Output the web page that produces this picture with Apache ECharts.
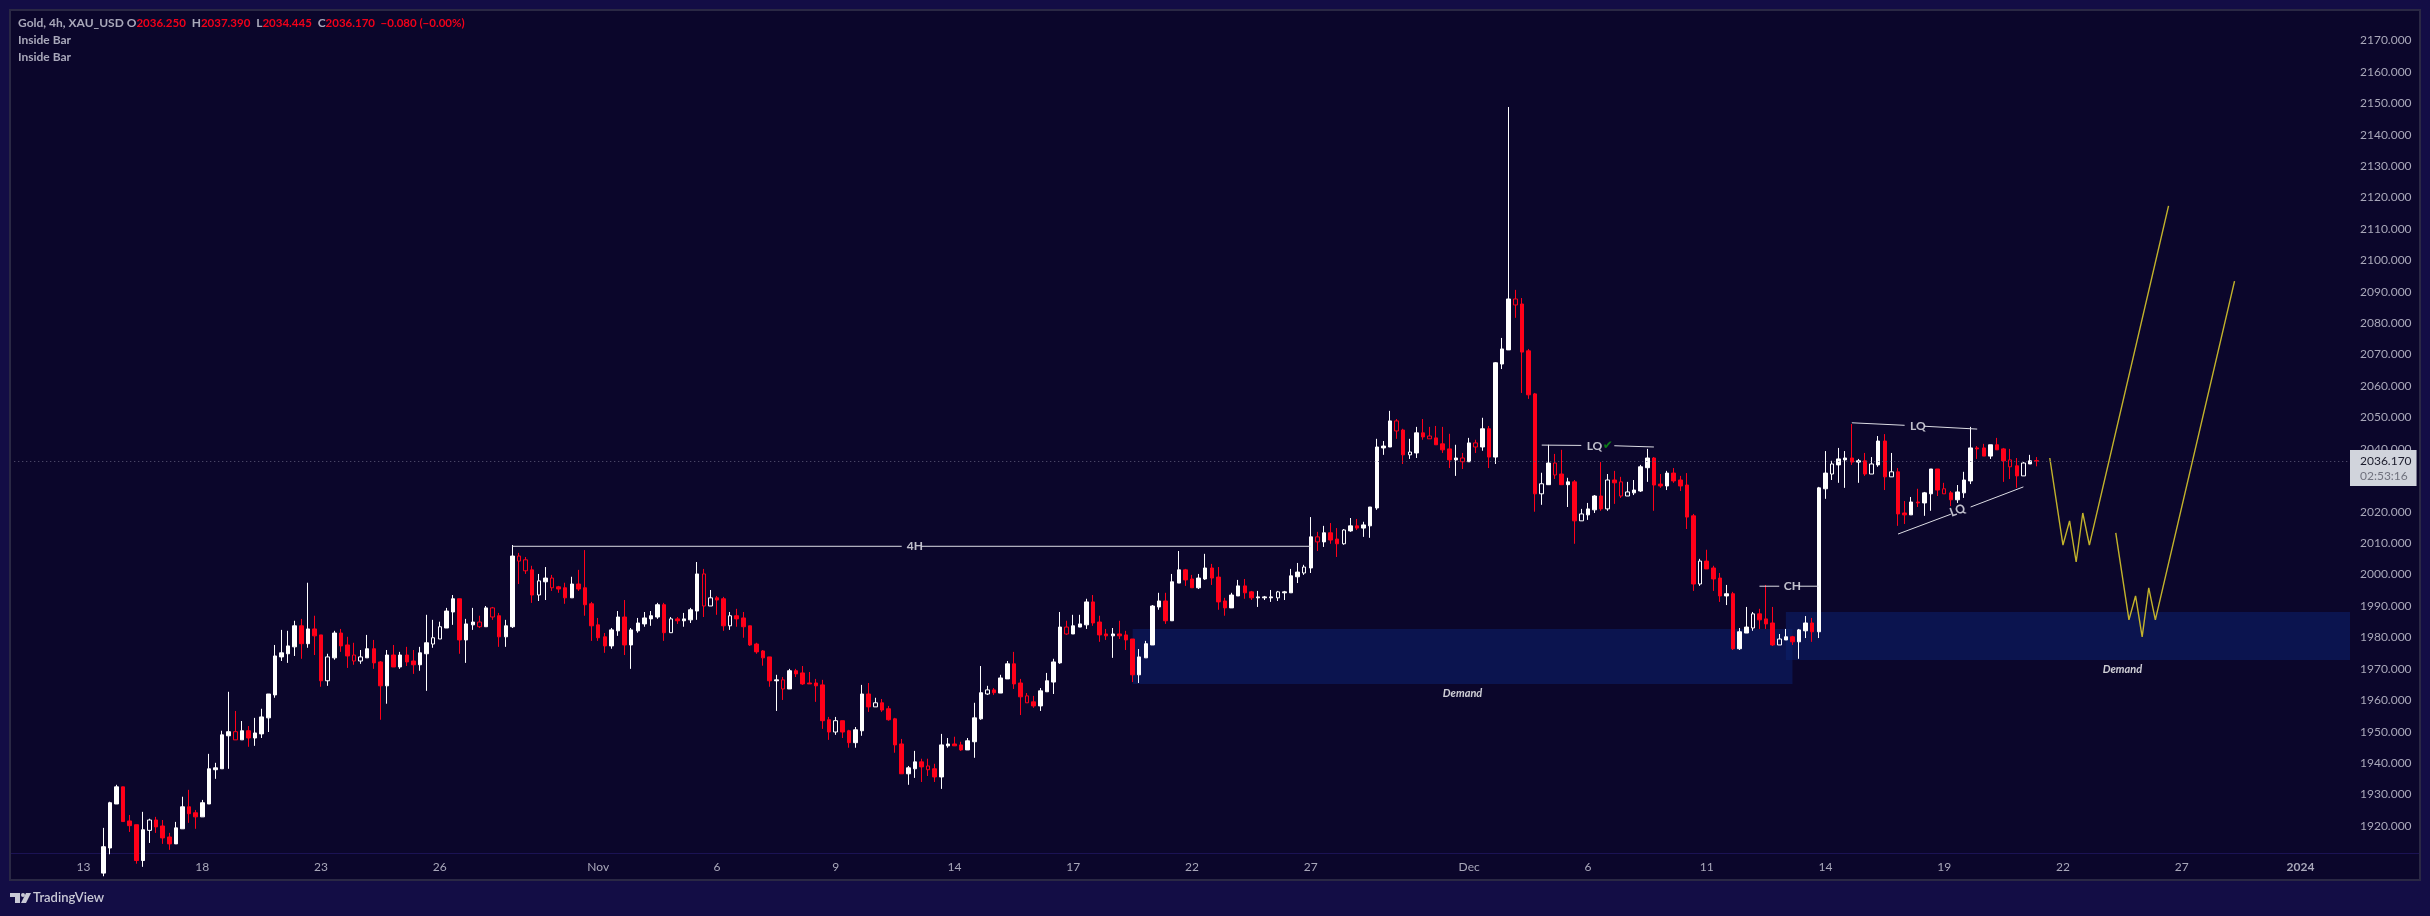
<!DOCTYPE html>
<html style="height: 100%">
<head>
<meta charset="utf-8">
<script src="https://cdn.jsdelivr.net/npm/echarts@6/dist/echarts.min.js"></script>
<style type="text/css">
  *{ margin: 0; padding: 0; }
</style>
</head>
<body style="height: 100%; margin: 0; background: #130d45">
<div id="container" style="width: 2430px; height: 916px"></div>
<script type="text/javascript">
// 4h gold bars: [open, close, high, low]
var bars = [
[1905,1913.4,1919.4,1904],[1913,1927.4,1927.7,1911],[1927,1932.45,1933.1,1927],[1932.45,1921.4,1932.5,1921.4],[1921.6,1920.1,1923.5,1918.1],
[1920.4,1909,1920.4,1908],[1909,1918.8,1924.5,1907],[1918.6,1921.9,1922.3,1914.6],[1921.9,1919.7,1922.9,1917.8],[1920,1916.2,1921.9,1914.3],
[1916.5,1914.3,1917.8,1912.4],[1914.3,1919.4,1921.3,1914.3],[1919.1,1926.1,1929.3,1919.1],[1926.1,1923.9,1931.5,1921],[1924.2,1922.9,1925.1,1919.1],
[1922.9,1927.4,1928.3,1922.9],[1927,1938.2,1942.95,1927],[1937.9,1938.5,1940.1,1935],[1938.2,1949,1950.3,1938.2],[1948.7,1950,1962.7,1938.2],
[1950,1947.4,1956.6,1947.4],[1947.4,1950.3,1953.4,1947.4],[1950.3,1948,1951.8,1945.2],[1948,1949.6,1954.4,1945.5],[1949.3,1954.7,1957.3,1948],
[1954.4,1962,1962,1949.9],[1961.7,1974.1,1977.6,1960.8],[1973.8,1975.1,1982.4,1972.5],[1974.8,1977.3,1982.1,1971.9],[1977,1983.7,1985.3,1974.1],
[1983.7,1978,1985.9,1973.2],[1978,1982.7,1997.4,1976.7],[1982.7,1980.5,1986.9,1974.4],[1980.8,1966.2,1980.8,1964.3],[1966.2,1973.8,1974.8,1964.6],
[1973.5,1981.4,1982.1,1972.9],[1981.4,1977.3,1982.7,1975.4],[1977.6,1974.1,1980.2,1970.3],[1974.4,1972.5,1978.3,1971.3],[1972.5,1973.8,1976,1971.6],
[1973.5,1976.4,1980.8,1973.5],[1976.4,1971.9,1979.2,1970],[1972.2,1964.6,1972.5,1953.8],[1964.6,1974.4,1976,1958.9],[1974.4,1970.6,1977.6,1970.6],
[1970.6,1974.4,1975.4,1970],[1974.4,1972.2,1977,1970.9],[1972.5,1971.3,1976,1968.4],[1971.3,1975.1,1977,1969.4],[1974.8,1978.3,1987.2,1963],
[1977.9,1979.9,1985.6,1976.7],[1979.5,1983.4,1985,1979.5],[1983,1988.4,1989.4,1983],[1988.1,1992.3,1993.5,1984],[1992.3,1979.2,1992.3,1974.8],
[1979.2,1984.3,1985.9,1971.9],[1984,1984.9,1989.4,1982.4],[1984.9,1983.4,1986.9,1983],[1983.4,1989.4,1990,1983.4],[1989.4,1986.5,1989.7,1985.6],
[1986.9,1980.2,1987.8,1977],[1980.2,1983.7,1985.6,1977],[1983.4,2005.9,2009.4,1983],[2005.9,2004.3,2006.9,1997],[2004.7,2001.2,2005.6,2000.2],
[2001.5,1993.5,2002.8,1991],[1993.5,1998,2000.2,1991.6],[1997.7,1998.9,2002.4,1991.9],[1998.9,1995.8,1999.9,1994.8],[1996.1,1995.4,1996.4,1994.2],
[1995.8,1992.6,1997.4,1990.7],[1992.6,1997,1999.3,1992.6],[1997,1995.4,2001.5,1994.8],[1995.8,1990.4,2007.8,1986.9],[1990.7,1983.7,1991.3,1978.9],
[1984,1979.9,1986.2,1978.9],[1980.2,1977.3,1981.4,1975.1],[1977.3,1982.4,1983,1976.4],[1982.1,1986.5,1988.4,1980.5],[1986.5,1977.6,1991.9,1974.4],
[1977.6,1982.4,1983,1970],[1982.1,1984.6,1986.2,1981.5],[1984.3,1986.2,1988.1,1983.4],[1985.9,1986.9,1988.4,1983.7],[1986.5,1990.4,1991,1985.9],
[1990.4,1981.5,1991,1978.9],[1981.5,1985.9,1986.5,1981.5],[1985.9,1985.3,1986.5,1984.3],[1985.3,1985.9,1987.8,1983.4],[1985.6,1988.8,1989.4,1984.6],
[1988.4,2000.2,2004,1985.6],[2000.2,1990,2001.8,1986.5],[1990,1992.6,1995.1,1990],[1992.6,1991.9,1993.2,1987.2],[1992.3,1983.7,1992.9,1982.1],
[1983.7,1986.9,1988.1,1982.4],[1986.9,1985.9,1989.1,1983.4],[1986.2,1983.4,1988.1,1979.9],[1983.7,1977.6,1983.7,1977.3],[1977.9,1975.4,1978.3,1974.8],
[1975.7,1973.5,1976,1971],[1973.8,1966.2,1973.8,1964.3],[1966.2,1966.5,1968.1,1956.6],[1966.5,1963.6,1967.4,1960.1],[1963.6,1969.4,1970,1963.6],
[1969.4,1968.4,1970,1967.4],[1968.7,1965.2,1970.9,1964.9],[1965.5,1965.2,1969,1965.2],[1965.5,1964.6,1966.8,1959.5],[1964.9,1953.5,1966.5,1950.9],
[1953.8,1949.9,1954.7,1947.4],[1949.9,1953.5,1954.7,1949],[1953.5,1949.9,1953.5,1948],[1950.3,1946.5,1950.6,1944.9],[1946.5,1950.6,1951.5,1944.9],
[1950.3,1962,1964.9,1948.7],[1962,1957.9,1965.5,1956.3],[1957.9,1959.2,1960.8,1957.9],[1959.2,1956.9,1960.4,1956.3],[1957.3,1953.8,1958.2,1953.5],
[1954.1,1945.8,1954.4,1943.3],[1946.1,1936.6,1947.7,1936.6],[1936.6,1938.5,1939.1,1933.1],[1938.2,1940.4,1943.9,1935.3],[1940.4,1938.8,1941.4,1934],
[1939.1,1937.9,1941.4,1935.9],[1938.2,1935.6,1939.8,1934],[1935.6,1945.8,1949.3,1931.8],[1945.5,1946.1,1948,1944.9],[1946.1,1945.5,1948.4,1945.5],
[1945.8,1944.2,1946.8,1943.9],[1944.2,1947.1,1948,1944.2],[1946.8,1954.4,1959.2,1941.7],[1954.1,1962.4,1970.9,1953.8],[1962,1963.3,1964.6,1961.7],
[1963.3,1962.4,1963.9,1961.7],[1962.3,1967.1,1968.1,1962.3],[1966.8,1971.6,1972.5,1966.8],[1971.6,1965.2,1975.4,1963.6],[1965.5,1961.1,1966.8,1955.3],
[1961.4,1959.2,1962.3,1959.2],[1959.5,1958.2,1961.4,1957.6],[1958.2,1963,1963.9,1956.6],[1962.7,1966.2,1968.7,1962.7],[1965.8,1972.2,1973.2,1962],
[1971.9,1983.3,1988.1,1971.6],[1983.3,1981.1,1985.3,1980.8],[1981.1,1983.7,1987.2,1981.1],[1983.3,1984.3,1987.2,1983.3],[1984,1991.3,1992.3,1982.7],
[1991.3,1984.6,1993.5,1983.7],[1984.9,1980.8,1986.9,1978.6],[1981.1,1980.5,1982.7,1979.2],[1980.5,1981.1,1983,1973.5],[1981.1,1980.5,1985.3,1979.5],
[1980.8,1979.2,1982.1,1976],[1979.5,1968.1,1979.5,1965.8],[1968.1,1973.8,1976.3,1965.5],[1973.5,1978,1978.9,1973.5],[1977.6,1990,1990.3,1977.6],
[1989.7,1991.6,1994.2,1988.8],[1991.6,1985.3,1994.2,1984.3],[1985.3,1997.7,2000.2,1985.3],[1997.3,2001.5,2007.5,1997.3],[2001.5,1998.3,2001.8,1996.4],
[1998.6,1995.8,1999.9,1995.8],[1995.8,1998.9,2000.2,1995.4],[1998.6,2002.1,2006.6,1998.3],[2002.1,1998.9,2003.4,1996.7],[1999.2,1991.3,2002.4,1988.8],
[1991.6,1989.4,1992.6,1986.9],[1989.4,1993.5,1994.2,1989.4],[1993.2,1996.4,1998.3,1993.2],[1996.4,1994.2,1998.6,1992.3],[1994.5,1992.6,1994.8,1991.9],
[1992.6,1992.9,1994.8,1989.7],[1992.6,1992.9,1993.2,1991.9],[1992.6,1992.9,1995.1,1991.3],[1992.6,1994.5,1994.8,1991.6],[1994.2,1994.5,1994.8,1991.9],
[1994.2,1999.6,2001.8,1994.2],[1999.3,2000.8,2003.7,1997.3],[2000.5,2002.4,2003.1,1999.9],[2002.1,2012,2018.3,2000.5],[2012,2010.4,2013.6,2007.5],
[2010.4,2013.3,2015.5,2008.8],[2013.3,2011,2016.4,2009.8],[2011.3,2009.8,2014.8,2005.6],[2009.8,2014.2,2014.5,2009.5],[2013.9,2015.5,2018,2013.6],
[2015.5,2014.8,2017.7,2014.2],[2014.8,2015.8,2016.8,2012],[2015.5,2021.5,2021.5,2011.7],[2021.2,2040.6,2043.2,2020.6],[2040.3,2040.9,2042.5,2038.1],
[2040.6,2048.9,2052.1,2040.6],[2048.9,2045.7,2049.5,2043.2],[2046,2038.1,2046.4,2035.2],[2038.1,2039,2043.2,2036.8],[2038.7,2045.1,2047,2037.1],
[2045.1,2043.8,2049.5,2042.9],[2044.1,2043.2,2047,2043.2],[2043.5,2041.3,2047.3,2041.3],[2041.6,2039.7,2047,2038.7],[2040,2036.5,2044.8,2033.9],
[2036.5,2037.1,2041.3,2031.4],[2037.1,2035.9,2038.7,2033.6],[2035.9,2041.9,2043.5,2035.9],[2041.9,2040.6,2042.9,2038.7],[2040.6,2046.4,2049.9,2039.4],
[2046.4,2037.4,2047.3,2033.9],[2037.4,2067.4,2067.6,2035.2],[2067,2071.8,2075.3,2065.4],[2071.5,2087.7,2148.8,2071.5],[2087.7,2085.8,2090.6,2081.7],
[2086.1,2070.8,2088,2057.8],[2071.2,2057.2,2071.8,2055.9],[2057.5,2025.7,2057.8,2020],[2025.7,2028.9,2032.4,2022.2],[2028.6,2035.5,2041.3,2028.6],
[2035.5,2031.7,2038.4,2030.4],[2032,2028.6,2039.7,2028.6],[2028.6,2029.5,2030.8,2021.5],[2029.5,2017.1,2030.1,2009.8],[2017.1,2019.3,2020.9,2017.1],
[2019,2020.9,2022.8,2017.4],[2020.6,2025,2025.3,2019.6],[2025,2020.9,2035.8,2020.3],[2020.9,2030.1,2032,2020.3],[2030.1,2029.2,2033,2022.5],
[2029.5,2025,2031.1,2024.4],[2025,2026.3,2029.5,2025],[2026,2026.9,2030.1,2025.3],[2026.6,2034.3,2034.9,2026.3],[2034,2037.1,2040,2029.5],
[2037.1,2028.5,2037.4,2020.3],[2028.8,2028.2,2032,2027.6],[2028.2,2032.3,2033,2026.9],[2032.3,2029.8,2033.9,2029.2],[2030.1,2028.2,2031.4,2026.6],
[2028.5,2018.3,2032.3,2014.5],[2018.7,1997,2019.3,1994.8],[1997,2004.3,2005,1996.4],[2004.3,2001.8,2007.9,2001.8],[2002.1,1998.6,2002.8,1994.8],
[1998.9,1993.2,2000.5,1991.3],[1993.2,1993.9,1996.7,1990.3],[1993.9,1976.4,1994.5,1976],[1976.4,1981.8,1983,1976],[1981.4,1983.3,1989.7,1981.4],
[1983,1987.5,1988.1,1982.1],[1987.5,1985.6,1989.1,1982.7],[1985.9,1984.3,1996.7,1982.7],[1984.6,1977.6,1989.7,1977.3],[1977.6,1979.5,1981.1,1977.6],
[1979.2,1980.2,1982.7,1979.2],[1980.2,1978.6,1980.5,1977.6],[1978.6,1982.4,1982.7,1973.2],[1982.1,1984.6,1986.8,1979.8],[1984.6,1981.8,1986.2,1978.6],
[1981.8,2027.6,2027.9,1979.8],[2027.3,2032.3,2039.3,2024.1],[2032,2035.2,2036.2,2030.1],[2034.9,2036.8,2040.3,2029.2],[2036.5,2037.1,2039.3,2027.6],
[2037.1,2035.8,2047.9,2034.9],[2035.8,2036.2,2036.8,2029.2],[2036.2,2032,2038.7,2031.4],[2032,2035.2,2037.4,2032],[2034.9,2042.5,2044.1,2034.3],
[2042.5,2031.1,2044.7,2026.9],[2031.1,2032.7,2038.7,2031.1],[2032.7,2019.3,2033.9,2015.5],[2019.6,2019,2023.4,2016.1],[2019,2023.1,2024.7,2019],
[2023.1,2022.8,2027.3,2021.5],[2022.8,2026,2026.3,2018.7],[2025.7,2033.6,2033.6,2020.3],[2033.6,2026.9,2033.6,2025],[2027.3,2025.7,2029.2,2025.7],
[2026,2023.8,2026.6,2021.8],[2023.8,2026.3,2028.5,2022.8],[2026,2030.1,2032.7,2024.4],[2029.8,2040.3,2047,2028.8],[2040.3,2040,2040.9,2036.8],
[2040.3,2037.7,2041.6,2037.7],[2037.7,2041.3,2041.3,2036.8],[2041.3,2039.7,2043.5,2039.7],[2040,2036.2,2040.3,2029.5],[2036.5,2034.3,2040,2030.4],
[2034.6,2031.4,2037.1,2027.6],[2031.4,2035.5,2035.8,2031.4],[2035.2,2036.2,2038.1,2035.2],[2036.25,2036.17,2037.39,2034.445]
];
// inside bars, drawn hollow
var hollowBars = [7,20,34,38,39,50,51,57,59,63,64,66,68,86,91,92,95,103,111,117,125,134,140,146,178,182,184,188,196,198,201,206,208,214,218,220,224,228,230,231,242,250,254,262,268,271,279,289,291];

var priceTicks = [1920,1930,1940,1950,1960,1970,1980,1990,2000,2010,2020,2030,2040,2050,2060,2070,2080,2090,2100,2110,2120,2130,2140,2150,2160,2170];
var lastPrice = 2036.17;

// bar number -> date label
var timeTicks = {'-3':'13',15:'18',33:'23',51:'26',75:'Nov',93:'6',111:'9',129:'14',147:'17',165:'22',183:'27',207:'Dec',225:'6',243:'11',261:'14',279:'19',297:'22',315:'27',333:'2024'};

// blank slots before the first bar and after the last one
var leadSlots = 13;
var totalSlots = 354;

// demand zones: [first bar, last bar, top, bottom], the second runs to the pane edge
var zones = [[156,256,1982.7,1965.2],[255,Infinity,1988.1,1972.8]];

// hand drawn lines, as [bar, price] pairs
var whiteLines = [
  [[62,2009],[121,2009]],
  [[124,2009],[183,2009]],
  [[218,2041.2],[224,2041.1]],
  [[229,2041],[235,2040.6]],
  [[251,1996.3],[254,1996.3]],
  [[257,1996.3],[260,1996.3]],
  [[265,2048.3],[273,2047.5]],
  [[276,2047.2],[284,2046.3]],
  [[272,2012.9],[280,2019.2]],
  [[283,2021.5],[291,2027.9]]
];
var projections = [
  [[295,2037.1],[297,2009.4],[298,2017.1],[299,2004],[300,2019.6],[301,2009.4],[313,2117.3]],
  [[305,2013.3],[307,1985.6],[308,1993.2],[309,1980.2],[310,1995.8],[311,1985.6],[323,2093.4]]
];

// drawing labels: [bar, price, text]
var notes = [[123,2009,'4H'],[226,2041,'LQ'],[256,1996.3,'CH'],[275,2047.3,'LQ']];
var sloped = [[281,2020.4,'LQ']];
var demandNotes = [[206,1962.3,'Demand'],[306,1969.8,'Demand']];
var checks = [[228,2041,'✔']];

var headerName = 'Gold, 4h, XAU_USD';
var headerValues = ['2036.250','2037.390','2034.445','2036.170'];
var headerChange = '−0.080 (−0.00%)';

var fontName = 'Lato';
var mutedText = '#a9a8ba';

var dom = document.getElementById("container");
var myChart = echarts.init(dom);

var categories = [];
for (var i = 0; i < totalSlots; i++) {
  categories.push(String(i));
}

function slot(bar) {
  return bar + leadSlots;
}

var candleData = bars.map(function (b, idx) {
  var item = {value: [b[0], b[1], b[3], b[2]]};
  if (hollowBars.indexOf(idx) >= 0) {
    item.itemStyle = {color: 'rgba(0,0,0,0)', color0: 'rgba(0,0,0,0)'};
  }
  return item;
});

function slotted(points) {
  return points.map(function (p) {
    return [slot(p[0]), p[1]];
  });
}

function lineSeries(points, color, width) {
  return {
    type: 'line',
    data: slotted(points),
    showSymbol: false,
    symbol: 'none',
    silent: true,
    clip: false,
    z: 4,
    lineStyle: {color: color, width: width}
  };
}

function noteSeries(rows, label) {
  return {
    type: 'scatter',
    symbolSize: 0,
    silent: true,
    z: 5,
    data: rows.map(function (r) {
      return {value: [slot(r[0]), r[1]], name: r[2]};
    }),
    label: Object.assign({show: true, position: 'inside', formatter: '{b}'}, label)
  };
}

var series = [
  {
    type: 'line',
    data: [],
    z: 1,
    silent: true,
    markArea: {
      silent: true,
      itemStyle: {color: 'rgba(13,32,110,0.55)'},
      data: zones.map(function (z) {
        return [{xAxis: slot(z[0]), yAxis: z[2]}, {xAxis: slot(z[1]), yAxis: z[3]}];
      })
    }
  },
  {
    type: 'candlestick',
    data: new Array(leadSlots).fill('-').concat(candleData),
    barWidth: 4,
    z: 3,
    silent: true,
    large: false,
    itemStyle: {
      color: '#ffffff', borderColor: '#ffffff',
      color0: '#ff0019', borderColor0: '#ff0019',
      borderWidth: 1
    },
    markLine: {
      silent: true,
      animation: false,
      symbol: ['none', 'none'],
      lineStyle: {color: '#5e5a78', width: 1, type: [1, 3]},
      label: {
        show: true,
        position: 'end',
        distance: 0,
        offset: [0, 7],
        backgroundColor: '#d1d4dc',
        padding: [4, 5, 2, 10],
        formatter: '{a|2036.170}\n{b|02:53:16}',
        rich: {
          a: {color: '#1b1b2b', fontFamily: fontName, fontSize: 12, lineHeight: 15},
          b: {color: '#70727e', fontFamily: fontName, fontSize: 12, lineHeight: 15}
        }
      },
      data: [{yAxis: lastPrice}]
    }
  }
];

whiteLines.forEach(function (l) {
  series.push(lineSeries(l, '#dcdce4', 1));
});
projections.forEach(function (l) {
  series.push(lineSeries(l, '#c3b32b', 1.4));
});
series.push(noteSeries(notes, {color: '#eeeef4', fontFamily: fontName, fontWeight: 'bold', fontSize: 12}));
series.push(noteSeries(sloped, {color: '#eeeef4', fontFamily: fontName, fontWeight: 'bold', fontSize: 12, rotate: 20}));
series.push(noteSeries(demandNotes, {color: '#ffffff', fontFamily: fontName, fontWeight: 'bold', fontStyle: 'italic', fontSize: 11}));
series.push(noteSeries(checks, {color: '#0f9a14', fontFamily: '"DejaVu Sans"', fontSize: 12}));

var gap = '  ';
var option = {
  animation: false,
  backgroundColor: '#130d45',
  textStyle: {fontFamily: fontName},
  title: {
    left: 18,
    top: 15,
    padding: 0,
    text: '{g|' + headerName + ' O}{r|' + headerValues[0] + '}{g|' + gap + 'H}{r|' + headerValues[1] + '}{g|' + gap + 'L}{r|' + headerValues[2] + '}{g|' + gap + 'C}{r|' + headerValues[3] + gap + headerChange + '}\n{g|Inside Bar}\n{g|Inside Bar}',
    textStyle: {
      rich: {
        g: {color: mutedText, fontFamily: fontName, fontSize: 12, lineHeight: 17},
        r: {color: '#f20019', fontFamily: fontName, fontSize: 11.5, lineHeight: 17}
      }
    }
  },
  graphic: [
    {type: 'rect', z: -10, silent: true, shape: {x: 10, y: 10, width: 2410, height: 870}, style: {fill: '#0b062b', stroke: '#2a2844', lineWidth: 2}},
    {type: 'rect', z: -9, silent: true, shape: {x: 11, y: 853, width: 2408, height: 1}, style: {fill: '#1b1254'}},
    {type: 'polygon', silent: true, shape: {points: [[10,893],[20,893],[20,903],[15,903],[15,897],[10,897]]}, style: {fill: '#c9c9d6'}},
    {type: 'circle', silent: true, shape: {cx: 23, cy: 895, r: 2}, style: {fill: '#c9c9d6'}},
    {type: 'polygon', silent: true, shape: {points: [[26,893],[31,893],[26,903],[21,903]]}, style: {fill: '#c9c9d6'}},
    {type: 'text', silent: true, x: 33, y: 891, style: {text: 'TradingView', fill: '#c9c9d6', font: '600 13px ' + fontName}}
  ],
  grid: {left: 14.24, width: 2335.76, top: 10, height: 843, containLabel: false},
  xAxis: {
    type: 'category',
    data: categories,
    boundaryGap: true,
    axisLine: {show: false},
    axisTick: {show: false},
    splitLine: {show: false},
    axisLabel: {
      color: mutedText,
      fontFamily: fontName,
      fontSize: 12,
      margin: 8,
      interval: function (index) {
        return timeTicks[index - leadSlots] !== undefined;
      },
      formatter: function (value, index) {
        var t = timeTicks[index - leadSlots];
        return t === '2024' ? '{y|' + t + '}' : t;
      },
      rich: {y: {color: mutedText, fontFamily: fontName, fontSize: 12, fontWeight: 'bold'}}
    }
  },
  yAxis: {
    type: 'value',
    position: 'right',
    min: 1911.4,
    max: 2179.66,
    axisLine: {show: false},
    axisTick: {show: false},
    splitLine: {show: false},
    axisLabel: {
      color: mutedText,
      fontFamily: fontName,
      fontSize: 12,
      margin: 10,
      customValues: priceTicks,
      formatter: function (v) {
        return v.toFixed(3);
      }
    }
  },
  series: series
};

myChart.setOption(option, true);
</script>
</body>
</html>
